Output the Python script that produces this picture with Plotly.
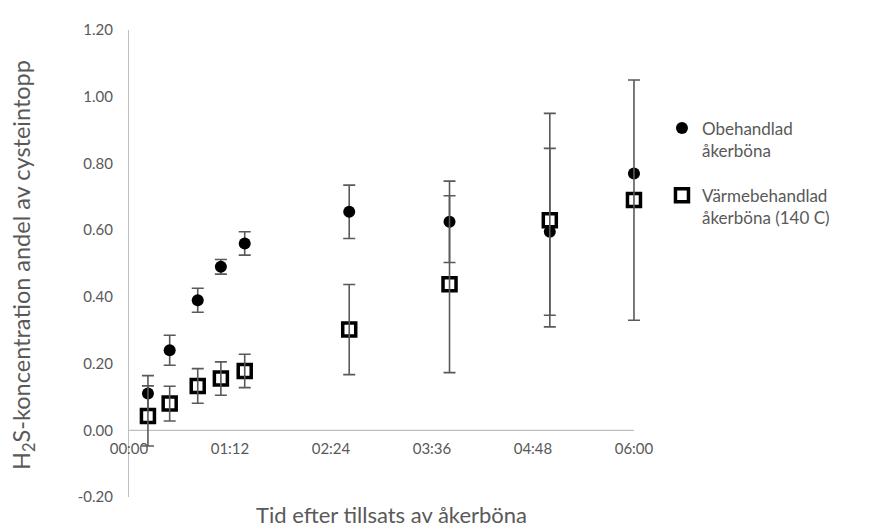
import plotly.graph_objects as go

# ---- data ----
time_min = [13.5, 29, 49, 65.5, 82.5, 157, 228.5, 300, 360]   # minutes after addition
obehandlad = [0.11, 0.24, 0.39, 0.49, 0.56, 0.655, 0.625, 0.595, 0.77]
obehandlad_err = [0.054, 0.045, 0.036, 0.022, 0.035, 0.08, 0.122, 0.25, 0.0]
varme = [0.043, 0.08, 0.133, 0.155, 0.178, 0.302, 0.438, 0.63, 0.69]
varme_err = [0.09, 0.052, 0.052, 0.05, 0.05, 0.135, 0.265, 0.32, 0.36]

series_names = ["Obehandlad<br>åkerböna", "Värmebehandlad<br>åkerböna (140 C)"]

x_tickvals = [0, 72, 144, 216, 288, 360]
x_ticktext = ["00:00", "01:12", "02:24", "03:36", "04:48", "06:00"]
y_tickvals = [-0.2, 0.0, 0.2, 0.4, 0.6, 0.8, 1.0, 1.2]
y_ticktext = ["-0.20", "0.00", "0.20", "0.40", "0.60", "0.80", "1.00", "1.20"]

FONT = "Lato"
GRAY = "#595959"
AXIS = "#BFBFBF"
ERR = dict(type="data", color=GRAY, thickness=1.6, width=6)

X_MAX = 360        # axis end (06:00)
X_ROOM = 370       # plotting room so the last error-bar caps are not clipped

fig = go.Figure()
fig.add_trace(go.Scatter(
    x=time_min, y=obehandlad, mode="markers", name=series_names[0],
    legendgroup="a",
    marker=dict(symbol="circle", size=12, color="black"),
    error_y=dict(array=obehandlad_err, **ERR),
))
fig.add_trace(go.Scatter(
    x=time_min, y=varme, mode="markers", name=series_names[1],
    legendgroup="b",
    marker=dict(symbol="square", size=13, color="white", line=dict(color="black", width=3.5)),
))
# error bars of the heat-treated series drawn on top of its markers (as in the reference)
fig.add_trace(go.Scatter(
    x=time_min, y=varme, mode="markers", showlegend=False, legendgroup="b",
    hoverinfo="skip",
    marker=dict(size=1, color="rgba(0,0,0,0)"),
    error_y=dict(array=varme_err, **ERR),
))

# the page body has an 8px margin, so the figure is laid out 8px smaller / shifted
W, H = 887, 523
L, T, B = 121, 13, 489
px_per_min = 505 / X_MAX
pw = X_ROOM * px_per_min
R = L + pw
ph = B - T

fig.update_layout(
    width=W, height=H,
    margin=dict(l=L, r=W - R, t=T, b=H - B),
    paper_bgcolor="white", plot_bgcolor="white",
    font=dict(family=FONT, color=GRAY, size=15),
    showlegend=True,
    legend=dict(
        x=(654 - L) / pw, y=(B - 95) / ph, xanchor="left", yanchor="top",
        font=dict(family=FONT, size=17, color=GRAY),
        valign="top", traceorder="grouped", tracegroupgap=20,
        bgcolor="rgba(0,0,0,0)",
    ),
    xaxis=dict(
        range=[0, X_ROOM], tickvals=x_tickvals, ticktext=x_ticktext,
        showline=False, showgrid=False, zeroline=False,
        ticks="", anchor="free", position=(0 - (-0.2)) / 1.4,
        tickfont=dict(family=FONT, size=15, color=GRAY), ticklabelstandoff=8,
    ),
    yaxis=dict(
        range=[-0.2, 1.2], tickvals=y_tickvals, ticktext=y_ticktext,
        showline=True, linecolor=AXIS, linewidth=1.3, showgrid=False, zeroline=False,
        ticks="", tickfont=dict(family=FONT, size=15, color=GRAY), ticklabelstandoff=12,
    ),
    shapes=[
        # horizontal axis line at y = 0, from 00:00 to 06:00
        dict(type="line", xref="x", yref="y", x0=0, x1=X_MAX, y0=0, y1=0,
             line=dict(color=AXIS, width=1.3), layer="below"),
    ],
    annotations=[
        dict(text="H<sub>2</sub>S-koncentration andel av cysteintopp", textangle=-90,
             xref="paper", yref="paper", x=(15.5 - L) / pw, y=(B - 253) / ph,
             xanchor="center", yanchor="middle", showarrow=False,
             font=dict(family=FONT, size=23.5, color=GRAY)),
        dict(text="Tid efter tillsats av åkerböna",
             xref="paper", yref="paper", x=(384 - L) / pw, y=(B - 523) / ph,
             xanchor="center", yanchor="bottom", showarrow=False,
             font=dict(family=FONT, size=22, color=GRAY)),
    ],
)

fig.write_html("out.html")
